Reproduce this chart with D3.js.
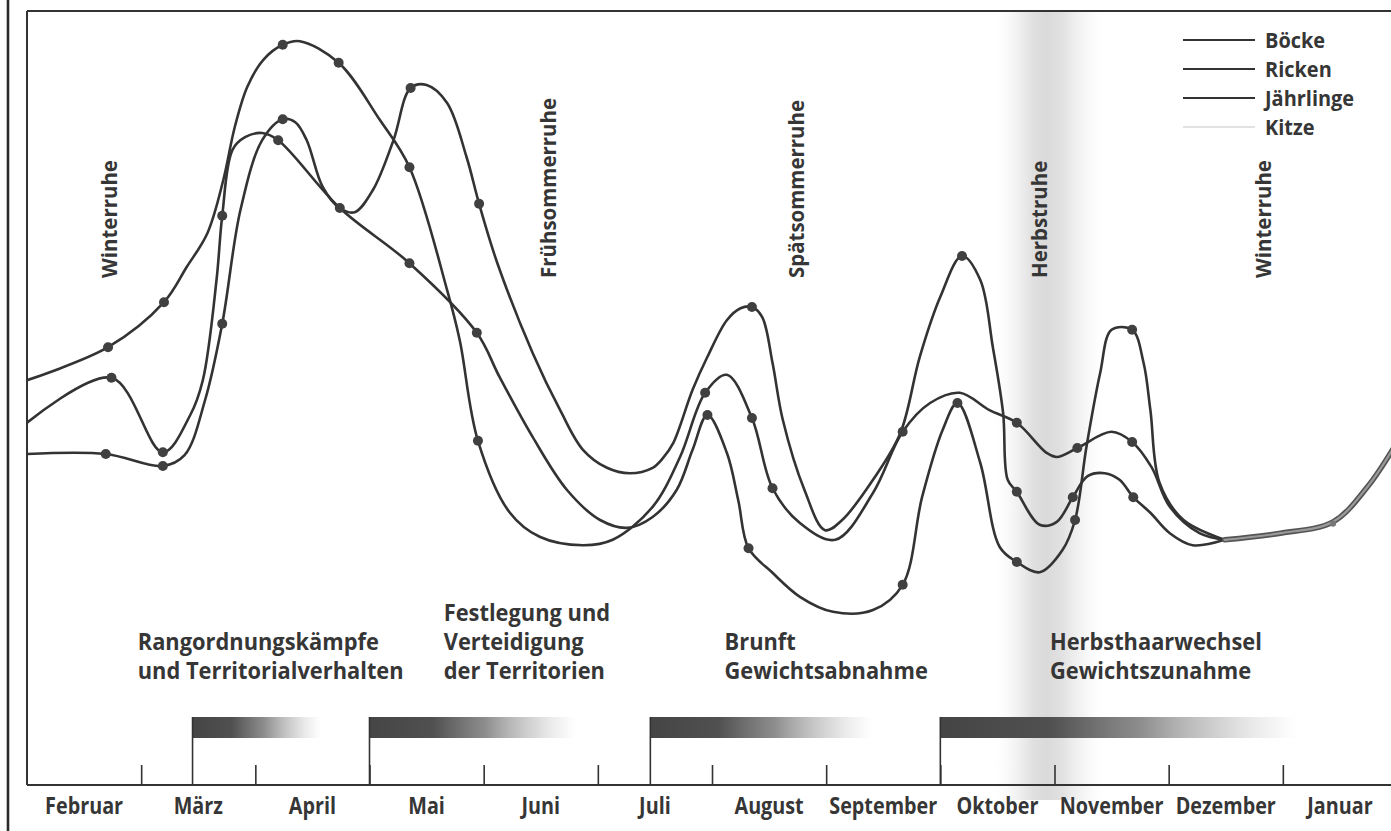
<!DOCTYPE html>
<html>
<head>
<meta charset="utf-8">
<script src="https://cdn.jsdelivr.net/npm/d3@7"></script>
<style>
  html, body { margin: 0; padding: 0; background: #ffffff; }
  svg { display: block; }
  text { font-family: "Open Sans", "Noto Sans", sans-serif; fill: #363636; }
</style>
</head>
<body>
<script>
// ---------------- DATA ----------------
const months = ["Februar","März","April","Mai","Juni","Juli","August","September","Oktober","November","Dezember","Januar"];

const seriesNames = ["Böcke","Ricken","Jährlinge","Kitze"];

// month position (0 = Anfang Februar) and activity value (relative, 0–100)
const boeckeMonths = [0,0.71,1.20,1.40,1.58,1.72,1.82,1.93,2.07,2.24,2.39,2.73,3.09,3.35,3.68,3.79,3.95,4.23,4.49,4.87,5.13,5.48,5.72,5.94,6.13,6.35,6.53,6.77,7.08,7.41,7.67,7.91,8.17,8.43,8.67,8.93,9.02,9.20,9.50,9.68,9.85,10.01,10.27,10.49];
const boeckeValues = [43.3,48.8,56.3,62.2,67.8,76.7,85.5,92.2,96.7,99.2,99.8,96.2,86.7,78.8,58.3,50.0,33.2,21.2,17.2,15.8,16.7,22.2,30.5,41.2,44.2,37.0,25.3,19.5,16.7,24.5,34.7,39.5,41.2,38.3,36.2,31.2,30.5,32.0,34.7,33.0,28.8,22.2,17.8,16.7];
const boeckeDots = [1,2,9,11,13,16,23,25,26,30,34,37,39];

const rickenMonths = [0,0.74,1.19,1.43,1.54,1.66,1.71,1.80,1.91,2.06,2.20,2.74,3.35,3.94,4.14,4.43,4.73,5.02,5.26,5.48,5.69,5.83,5.96,6.13,6.23,6.32,6.53,6.77,7.06,7.41,7.67,7.84,8.02,8.15,8.35,8.52,8.67,8.87,9.07,9.18,9.28,9.40,9.50,9.68,9.78,9.84,9.92,10.13,10.49];
const rickenValues = [36.2,43.7,31.3,37.5,43.3,60.0,70.7,81.7,83.8,84.5,83.3,72.0,62.8,51.2,43.8,33.8,25.0,20.0,18.7,20.5,25.0,31.7,37.5,31.2,23.3,15.3,11.2,7.2,4.7,5.0,9.2,23.8,35.0,39.5,29.5,15.5,13.0,11.3,15.0,20.0,32.2,44.5,51.7,51.7,46.2,38.3,26.2,20.0,16.7];
const rickenDots = [1,2,6,10,11,12,13,22,25,30,33,36,39,43];

const jaehrlingeMonths = [0,0.69,1.19,1.38,1.56,1.71,1.87,2.06,2.24,2.35,2.45,2.59,2.74,2.87,3.03,3.21,3.36,3.50,3.68,3.85,3.96,4.12,4.43,4.67,4.87,5.08,5.28,5.48,5.57,5.66,5.83,5.96,6.13,6.25,6.35,6.44,6.53,6.62,6.81,6.99,7.14,7.41,7.65,7.82,8.00,8.19,8.35,8.46,8.55,8.59,8.67,8.87,9.02,9.16,9.29,9.44,9.57,9.69,9.84,10.01,10.21,10.49];
const jaehrlingeValues = [31.0,31.0,29.0,30.8,40.0,52.7,71.7,83.3,86.8,86.3,83.3,75.5,72.0,71.3,75.0,83.3,92.0,92.5,89.5,80.5,72.7,62.8,47.8,38.3,31.7,28.7,27.8,28.7,30.3,32.8,41.7,47.2,53.3,55.3,55.5,53.8,46.2,36.7,25.0,18.3,20.0,26.7,34.5,47.2,57.2,64.0,60.0,48.8,37.8,26.7,24.7,19.2,19.7,23.8,27.3,27.8,26.7,23.8,21.2,17.8,15.8,16.7];
const jaehrlingeDots = [1,2,5,8,16,20,34,45,50,53,57];

const kitzeMonths = [10.49,10.98,11.44,11.74,11.97];
const kitzeValues = [16.7,17.8,19.7,25.5,32.0];
const kitzeDots = [2];

// resting phases (vertical labels) – month position of the label
const restLabels = ["Winterruhe","Frühsommerruhe","Spätsommerruhe","Herbstruhe","Winterruhe"];
const restMonths = [0.79,4.63,6.81,8.93,10.90];

// behaviour phases: start / fade-out month and text
const phaseStart = [1.45,3.0,5.46,8.0];
const phaseEnd = [2.6,4.85,7.45,11.2];
const phaseTextMonth = [0.97,3.65,6.11,8.96];
const phaseTexts = [
  ["Rangordnungskämpfe","und Territorialverhalten"],
  ["Festlegung und","Verteidigung","der Territorien"],
  ["Brunft","Gewichtsabnahme"],
  ["Herbsthaarwechsel","Gewichtszunahme"]
];

// autumn rest band (centre month)
const autumnBandCenter = 8.95;

// ---------------- DRAWING ----------------
const W = 1391, H = 831;
const plotLeft = 27, plotRight = 1397, plotTop = 11, axisY = 785;

const svg = d3.select("body").append("svg").attr("width", W).attr("height", H);
const defs = svg.append("defs");

const x = d3.scaleLinear().domain([0, 12]).range([plotLeft, plotRight]);
const y = d3.scaleLinear().domain([0, 100]).range([640, 40]);

defs.append("clipPath").attr("id", "plotclip").append("rect")
  .attr("x", plotLeft).attr("y", plotTop).attr("width", W - plotLeft).attr("height", axisY - plotTop);

// autumn band gradient
const bandGrad = defs.append("linearGradient").attr("id", "bandGrad").attr("x1", "0%").attr("x2", "100%");
[[0,"#ffffff",0],[0.18,"#efefef",0.6],[0.36,"#dedede",0.95],[0.48,"#dadada",1],[0.62,"#e0e0e0",0.95],[0.82,"#f0f0f0",0.6],[1,"#ffffff",0]]
  .forEach(s => bandGrad.append("stop").attr("offset", s[0]).attr("stop-color", s[1]).attr("stop-opacity", s[2]));

const bw = 0.5;
svg.append("rect")
  .attr("x", x(autumnBandCenter - bw)).attr("y", plotTop)
  .attr("width", x(autumnBandCenter + bw) - x(autumnBandCenter - bw))
  .attr("height", axisY + 15 - plotTop)
  .attr("fill", "url(#bandGrad)");

// phase bar gradient
const barGrad = defs.append("linearGradient").attr("id", "barGrad").attr("x1", "0%").attr("x2", "100%");
[[0,"#454545",1],[0.3,"#505050",1],[0.55,"#7a7a7a",0.85],[0.78,"#b5b5b5",0.55],[0.92,"#dedede",0.3],[1,"#ffffff",0]]
  .forEach(s => barGrad.append("stop").attr("offset", s[0]).attr("stop-color", s[1]).attr("stop-opacity", s[2]));

const barTop = 717, barBottom = 738;
const bars = svg.append("g");
phaseStart.forEach((s, i) => {
  bars.append("rect")
    .attr("x", x(s)).attr("y", barTop)
    .attr("width", x(phaseEnd[i]) - x(s)).attr("height", barBottom - barTop)
    .attr("fill", "url(#barGrad)");
  bars.append("line")
    .attr("x1", x(s)).attr("x2", x(s)).attr("y1", barTop).attr("y2", axisY)
    .attr("stroke", "#333").attr("stroke-width", 1.6);
});

// frame
svg.append("line").attr("x1", 8).attr("x2", 8).attr("y1", 0).attr("y2", H)
  .attr("stroke", "#2a2a2a").attr("stroke-width", 2.6);
svg.append("line").attr("x1", plotLeft).attr("x2", plotLeft).attr("y1", plotTop).attr("y2", axisY)
  .attr("stroke", "#333").attr("stroke-width", 2);
svg.append("line").attr("x1", plotLeft).attr("x2", W).attr("y1", plotTop).attr("y2", plotTop)
  .attr("stroke", "#333").attr("stroke-width", 2);

// x axis with month boundary ticks and month labels
const xAxis = d3.axisBottom(x)
  .tickValues(d3.range(1, 12))
  .tickSize(0)
  .tickFormat("");
const axG = svg.append("g").attr("transform", `translate(0,${axisY})`).call(xAxis);
axG.select(".domain").attr("stroke", "#333").attr("stroke-width", 2)
  .attr("d", `M${plotLeft},0H${W}`);
axG.selectAll(".tick line").attr("y1", -20).attr("y2", 0).attr("stroke", "#333").attr("stroke-width", 1.6);

svg.append("g").selectAll("text").data(months).join("text")
  .attr("transform", (d, i) => `translate(${x(i + 0.5)},814) scale(0.86,1)`)
  .attr("text-anchor", "middle")
  .attr("font-size", 23).attr("font-weight", 700)
  .text(d => d);

// resting phase labels (vertical)
svg.append("g").selectAll("text").data(restLabels).join("text")
  .attr("transform", (d, i) => `translate(${x(restMonths[i])},278) rotate(-90) scale(0.93,1)`)
  .attr("font-size", 22).attr("font-weight", 700)
  .text(d => d);

// behaviour phase texts
const pt = svg.append("g");
phaseTexts.forEach((lines, i) => {
  const n = lines.length;
  lines.forEach((t, j) => {
    pt.append("text")
      .attr("transform", `translate(${x(phaseTextMonth[i])},${679 - (n - 1 - j) * 29}) scale(0.95,1)`)
      .attr("font-size", 23).attr("font-weight", 700)
      .text(t);
  });
});

// curves
const plot = svg.append("g").attr("clip-path", "url(#plotclip)");
const line = d3.line()
  .x(d => x(d[0])).y(d => y(d[1]))
  .curve(d3.curveCatmullRom.alpha(0.5));

const series = [
  {name: seriesNames[0], m: boeckeMonths, v: boeckeValues, dots: boeckeDots},
  {name: seriesNames[1], m: rickenMonths, v: rickenValues, dots: rickenDots},
  {name: seriesNames[2], m: jaehrlingeMonths, v: jaehrlingeValues, dots: jaehrlingeDots}
];

series.forEach(s => {
  const pts = s.m.map((mm, i) => [mm, s.v[i]]);
  plot.append("path").datum(pts)
    .attr("d", line).attr("fill", "none")
    .attr("stroke", "#333").attr("stroke-width", 2.6)
    .attr("stroke-linejoin", "round").attr("stroke-linecap", "round");
});
series.forEach(s => {
  plot.append("g").selectAll("circle").data(s.dots).join("circle")
    .attr("cx", i => x(s.m[i])).attr("cy", i => y(s.v[i]))
    .attr("r", 5).attr("fill", "#404040");
});

// Kitze (grey double line towards the end)
const kpts = kitzeMonths.map((mm, i) => [mm, kitzeValues[i]]);
plot.append("path").datum(kpts).attr("d", line).attr("fill", "none")
  .attr("stroke", "#555").attr("stroke-width", 5.5).attr("stroke-linecap", "round");
plot.append("path").datum(kpts).attr("d", line).attr("fill", "none")
  .attr("stroke", "#9a9a9a").attr("stroke-width", 2.2).attr("stroke-linecap", "round");
plot.append("g").selectAll("circle").data(kitzeDots).join("circle")
  .attr("cx", i => x(kitzeMonths[i])).attr("cy", i => y(kitzeValues[i]) + 2)
  .attr("r", 3).attr("fill", "#777");

// legend
const legendColors = ["#333","#333","#333","#e2e2e2"];
const lg = svg.append("g");
seriesNames.forEach((n, i) => {
  const yy = 40 + i * 29;
  lg.append("line").attr("x1", 1183).attr("x2", 1255).attr("y1", yy).attr("y2", yy)
    .attr("stroke", legendColors[i]).attr("stroke-width", 2);
  lg.append("text").attr("transform", `translate(1265,${yy + 8}) scale(0.95,1)`)
    .attr("font-size", 21).attr("font-weight", 700).text(n);
});
</script>
</body>
</html>
